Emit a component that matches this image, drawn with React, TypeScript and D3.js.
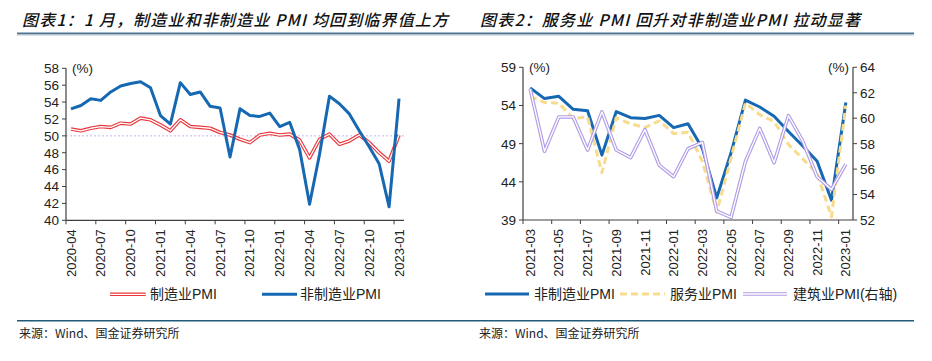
import React from 'react';
import * as d3 from 'd3';

// chart 1: 2020-04 .. 2023-01
const months1 = [
  '2020-04', '2020-05', '2020-06', '2020-07', '2020-08', '2020-09', '2020-10', '2020-11', '2020-12',
  '2021-01', '2021-02', '2021-03', '2021-04', '2021-05', '2021-06', '2021-07', '2021-08', '2021-09',
  '2021-10', '2021-11', '2021-12', '2022-01', '2022-02', '2022-03', '2022-04', '2022-05', '2022-06',
  '2022-07', '2022-08', '2022-09', '2022-10', '2022-11', '2022-12', '2023-01',
];
const mfgPMI = [
  50.8, 50.6, 50.9, 51.1, 51.0, 51.5, 51.4, 52.1, 51.9,
  51.3, 50.6, 51.9, 51.1, 51.0, 50.9, 50.4, 50.1, 49.6,
  49.2, 50.1, 50.3, 50.1, 50.2, 49.5, 47.4, 49.6, 50.2,
  49.0, 49.4, 50.1, 49.2, 48.0, 47.0, 50.1,
];
const nonMfgPMI1 = [
  53.2, 53.6, 54.4, 54.2, 55.2, 55.9, 56.2, 56.4, 55.7,
  52.4, 51.4, 56.3, 54.9, 55.2, 53.5, 53.3, 47.5, 53.2,
  52.4, 52.3, 52.7, 51.1, 51.6, 48.4, 41.9, 47.8, 54.7,
  53.8, 52.6, 50.6, 48.7, 46.7, 41.6, 54.4,
];
const yTicks1 = [40, 42, 44, 46, 48, 50, 52, 54, 56, 58];

// chart 2: 2021-03 .. 2023-01
const months2 = months1.slice(11);
const nonMfgPMI2 = nonMfgPMI1.slice(11);
const servicePMI = [
  55.2, 54.4, 54.3, 52.3, 52.5, 45.2, 52.4, 51.6, 51.1, 52.0,
  50.3, 50.5, 46.7, 40.0, 47.1, 54.3, 52.8, 51.9, 48.9, 47.0, 45.1, 39.4, 54.0,
];
const constructionPMI = [
  62.3, 57.4, 60.1, 60.1, 57.5, 60.5, 57.5, 56.9, 59.1, 56.3,
  55.4, 57.6, 58.1, 52.7, 52.2, 56.6, 59.2, 56.5, 60.2, 58.2, 55.4, 54.4, 56.4,
];
const yTicks2L = [39, 44, 49, 54, 59];
const yTicks2R = [52, 54, 56, 58, 60, 62, 64];

const NUM = '"Liberation Sans", Arial, sans-serif';
const CJK = '"Noto Sans CJK SC", sans-serif';
const AXIS = '#404040';
const BLUE = '#1668b3';
const RED = '#e8383d';
const YELLOW = '#f7dc8e';
const PURPLE = '#b29de6';

const XAxis = ({ x, months, every, y }) => {
  const [r0, r1] = x.range();
  const bw = x.bandwidth();
  return (
    <g>
      <line x1={r0} x2={r1} y1={y} y2={y} stroke={AXIS} strokeWidth={1.2} />
      {months.map((m, i) =>
        i % every === 0 ? (
          <g key={m}>
            <line x1={x(m)} x2={x(m)} y1={y} y2={y + 4} stroke={AXIS} strokeWidth={1} />
            <text
              transform={`translate(${x(m) + bw / 2},${y + 9}) rotate(-90)`}
              dy="0.35em"
              textAnchor="end"
              fontSize={13}
              fontFamily={NUM}
              fill="#222"
            >
              {m}
            </text>
          </g>
        ) : null
      )}
    </g>
  );
};

const YAxis = ({ scale, ticks, x, side }) => {
  const [b, t] = scale.range();
  const dir = side === 'left' ? -1 : 1;
  return (
    <g>
      <line x1={x} x2={x} y1={t} y2={b} stroke={AXIS} strokeWidth={1.2} />
      {ticks.map((v) => (
        <g key={v}>
          <line x1={x} x2={x + dir * 4} y1={scale(v)} y2={scale(v)} stroke={AXIS} strokeWidth={1} />
          <text
            x={x + dir * 7}
            y={scale(v)}
            dy="0.36em"
            textAnchor={side === 'left' ? 'end' : 'start'}
            fontSize={13.5}
            fontFamily={NUM}
            fill="#222"
          >
            {v}
          </text>
        </g>
      ))}
    </g>
  );
};

const DoubleLine = ({ d, color }) => (
  <g fill="none" strokeLinejoin="round">
    <path d={d} stroke={color} strokeWidth={3.6} />
    <path d={d} stroke="#fff" strokeWidth={1.3} />
  </g>
);

export default function App() {
  // chart 1 scales
  const x1 = d3.scaleBand().domain(months1).range([66, 404]);
  const y1 = d3.scaleLinear().domain([40, 58]).range([220.3, 68.3]);
  const line1 = (vals) =>
    d3
      .line()
      .x((_, i) => x1(months1[i]) + x1.bandwidth() / 2)
      .y((v) => y1(v))(vals);

  // chart 2 scales
  const x2 = d3.scaleBand().domain(months2).range([523, 853]);
  const y2L = d3.scaleLinear().domain([39, 59]).range([220, 67.3]);
  const y2R = d3.scaleLinear().domain([52, 64]).range([220, 67.3]);
  const line2 = (vals, y) =>
    d3
      .line()
      .x((_, i) => x2(months2[i]) + x2.bandwidth() / 2)
      .y((v) => y(v))(vals);

  const legendText = { fontSize: 14, fontFamily: `${NUM.split(',')[0]}, ${CJK}`, fill: '#222' };

  return (
    <svg width={932} height={361} style={{ position: 'absolute', left: 0, top: 0, background: '#fff' }}>
      <rect width={932} height={361} fill="#fff" />

      {/* titles */}
      <text x={22} y={26} fontSize={16} fontFamily={CJK} fontStyle="italic" fontWeight={500} fill="#111"
        textLength={426} lengthAdjust="spacing">
        图表1：1 月，制造业和非制造业 PMI 均回到临界值上方
      </text>
      <text x={480} y={26} fontSize={16} fontFamily={CJK} fontStyle="italic" fontWeight={500} fill="#111"
        textLength={380} lengthAdjust="spacing">
        图表2：服务业 PMI 回升对非制造业PMI 拉动显著
      </text>
      <line x1={17} x2={914} y1={33.5} y2={33.5} stroke="#4e7390" strokeWidth={2.2} />
      <line x1={17} x2={914} y1={35.2} y2={35.2} stroke="#c9d5de" strokeWidth={1} />

      {/* chart 1 */}
      <line x1={66} x2={404} y1={y1(50)} y2={y1(50)} stroke="#c8b8ea" strokeWidth={1} strokeDasharray="2 2" />
      <YAxis scale={y1} ticks={yTicks1} x={66} side="left" />
      <XAxis x={x1} months={months1} every={3} y={220.3} />
      <text x={72} y={73} fontSize={13.5} fontFamily={NUM} fill="#222">(%)</text>
      <DoubleLine d={line1(mfgPMI)} color={RED} />
      <path d={line1(nonMfgPMI1)} fill="none" stroke={BLUE} strokeWidth={3} strokeLinejoin="round" />

      {/* chart 1 legend */}
      <DoubleLine d="M110,294.3H145.7" color={RED} />
      <text x={150} y={294.3} dy="0.36em" {...legendText}>制造业PMI</text>
      <line x1={262} x2={297} y1={294.3} y2={294.3} stroke={BLUE} strokeWidth={3} />
      <text x={300} y={294.3} dy="0.36em" {...legendText}>非制造业PMI</text>

      {/* chart 2 */}
      <YAxis scale={y2L} ticks={yTicks2L} x={523} side="left" />
      <YAxis scale={y2R} ticks={yTicks2R} x={853} side="right" />
      <XAxis x={x2} months={months2} every={2} y={220} />
      <text x={529} y={72} fontSize={13.5} fontFamily={NUM} fill="#222">(%)</text>
      <text x={828} y={72} fontSize={13.5} fontFamily={NUM} fill="#222">(%)</text>
      <path d={line2(nonMfgPMI2, y2L)} fill="none" stroke={BLUE} strokeWidth={3} strokeLinejoin="round" />
      <path d={line2(servicePMI, y2L)} fill="none" stroke={YELLOW} strokeWidth={3} strokeDasharray="7 4" strokeLinejoin="round" />
      <DoubleLine d={line2(constructionPMI, y2R)} color={PURPLE} />

      {/* chart 2 legend */}
      <line x1={485} x2={529} y1={294} y2={294} stroke={BLUE} strokeWidth={3} />
      <text x={534} y={294} dy="0.36em" {...legendText}>非制造业PMI</text>
      <line x1={620} x2={665} y1={294} y2={294} stroke={YELLOW} strokeWidth={3} strokeDasharray="7 4" />
      <text x={670} y={294} dy="0.36em" {...legendText}>服务业PMI</text>
      <DoubleLine d="M743,294H787" color={PURPLE} />
      <text x={793} y={294} dy="0.36em" {...legendText}>建筑业PMI(右轴)</text>

      {/* footer */}
      <line x1={17} x2={914} y1={320.7} y2={320.7} stroke="#1f5a78" strokeWidth={1.4} />
      <text x={19} y={338} fontSize={12} fontFamily={CJK} fill="#222">来源：Wind、国金证券研究所</text>
      <text x={479} y={338} fontSize={12} fontFamily={CJK} fill="#222">来源：Wind、国金证券研究所</text>
    </svg>
  );
}
